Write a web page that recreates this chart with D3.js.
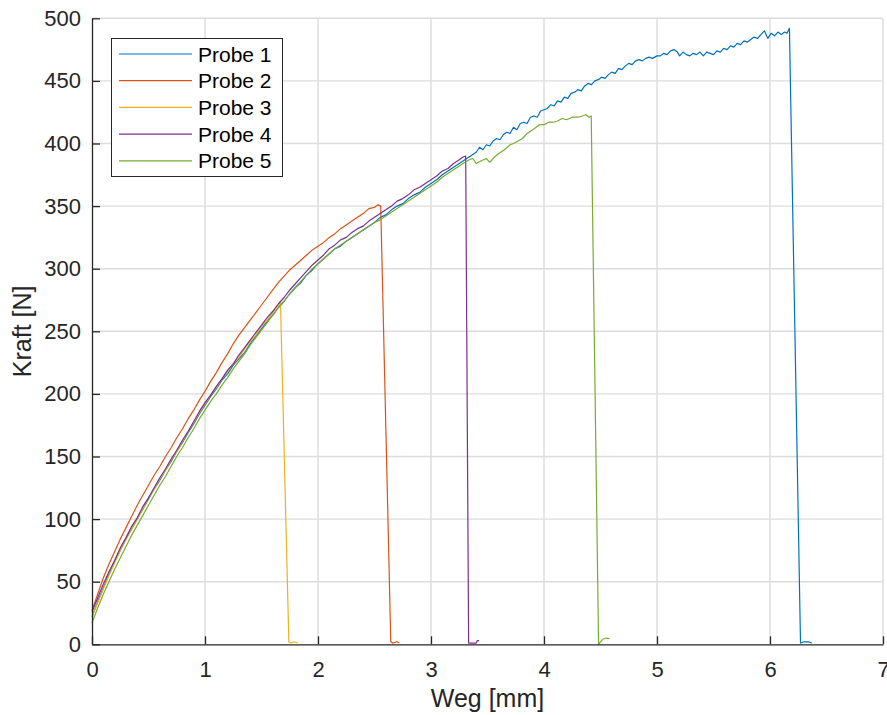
<!DOCTYPE html>
<html>
<head>
<meta charset="utf-8">
<script src="https://cdn.jsdelivr.net/npm/d3@7"></script>
<style>
  html, body { margin: 0; padding: 0; background: #fff; }
  svg { display: block; font-family: "Liberation Sans", Arial, Helvetica, sans-serif; }
</style>
</head>
<body>
<svg id="chart" width="887" height="715"></svg>
<script>
// Zugversuch: Kraft-Weg-Kurven der fünf Proben, Punkte als [Weg in mm, Kraft in N]
const probe1 = [[0,22],[0.05,34],[0.1,45],[0.15,56],[0.2,66],[0.25,75],[0.3,84],[0.35,92],[0.4,100],[0.45,108],[0.5,116],[0.55,124],[0.6,131],[0.65,139],[0.7,146],[0.75,154],[0.8,161],[0.85,169],[0.9,176],[0.95,184],[1.0,191],[1.05,198],[1.1,204],[1.15,211],[1.2,216],[1.25,223],[1.3,228],[1.35,233],[1.4,240],[1.45,246],[1.5,252],[1.55,258],[1.6,263],[1.65,269],[1.7,274],[1.75,280],[1.8,285],[1.85,289],[1.9,295],[1.95,299],[2.0,304],[2.05,308],[2.1,312],[2.15,316],[2.2,318],[2.25,322],[2.3,325],[2.35,328],[2.4,331],[2.45,334],[2.5,337],[2.55,341],[2.6,343],[2.65,347],[2.7,350],[2.75,352],[2.8,356],[2.85,359],[2.9,361],[2.95,365],[3.0,368],[3.05,371],[3.1,375],[3.15,378],[3.2,381],[3.25,384],[3.3,387],[3.35,390],[3.4,393],[3.43,397],[3.46,395],[3.49,399],[3.52,398],[3.55,402],[3.58,404],[3.61,403],[3.64,407],[3.67,409],[3.7,408],[3.73,413],[3.76,411],[3.79,416],[3.82,417],[3.85,416],[3.88,421],[3.91,422],[3.94,421],[3.97,426],[4.0,427],[4.03,428],[4.06,431],[4.09,430],[4.12,434],[4.15,433],[4.18,437],[4.21,436],[4.24,440],[4.27,441],[4.3,443],[4.33,442],[4.36,446],[4.39,448],[4.42,447],[4.45,450],[4.48,451],[4.51,453],[4.54,452],[4.57,455],[4.6,457],[4.63,456],[4.66,460],[4.69,459],[4.72,462],[4.75,464],[4.78,463],[4.81,466],[4.84,467],[4.87,466],[4.9,468],[4.93,469],[4.96,468],[5.0,470],[5.03,470],[5.06,472],[5.09,471],[5.12,474],[5.15,475],[5.18,473],[5.2,470],[5.23,473],[5.26,471],[5.29,470],[5.32,472],[5.35,471],[5.38,473],[5.41,470],[5.44,473],[5.47,472],[5.5,471],[5.53,474],[5.56,473],[5.59,476],[5.62,475],[5.65,478],[5.68,477],[5.71,480],[5.74,479],[5.77,482],[5.8,481],[5.83,483],[5.86,485],[5.89,484],[5.92,487],[5.95,490],[5.98,484],[6.01,488],[6.04,486],[6.07,489],[6.1,487],[6.13,489],[6.15,488],[6.172,492],[6.27,1],[6.3,2],[6.34,2],[6.37,1]];
const probe2 = [[0,27],[0.05,40],[0.1,53],[0.15,64],[0.2,74],[0.25,84],[0.3,93],[0.35,102],[0.4,111],[0.45,119],[0.5,127],[0.55,135],[0.6,142],[0.65,150],[0.7,157],[0.75,165],[0.8,172],[0.85,180],[0.9,187],[0.95,195],[1.0,202],[1.05,210],[1.1,217],[1.15,225],[1.2,232],[1.25,240],[1.3,247],[1.35,253],[1.4,259],[1.45,265],[1.5,271],[1.55,277],[1.6,283],[1.65,289],[1.7,294],[1.75,299],[1.8,303],[1.85,307],[1.9,311],[1.95,315],[2.0,318],[2.05,321],[2.1,325],[2.15,328],[2.2,332],[2.25,335],[2.3,338],[2.35,341],[2.4,344],[2.45,348],[2.5,349],[2.53,351],[2.555,350],[2.644,2],[2.66,1],[2.7,2],[2.72,1]];
const probe3 = [[0,22],[0.05,33],[0.1,44],[0.15,55],[0.2,65],[0.25,75],[0.3,84],[0.35,92],[0.4,100],[0.45,108],[0.5,117],[0.55,124],[0.6,132],[0.65,139],[0.7,147],[0.75,154],[0.8,162],[0.85,170],[0.9,177],[0.95,185],[1.0,192],[1.05,199],[1.1,205],[1.15,212],[1.2,218],[1.25,224],[1.3,229],[1.35,236],[1.4,242],[1.45,247],[1.5,254],[1.55,259],[1.6,265],[1.65,271],[1.668,273],[1.742,2],[1.76,1],[1.79,2],[1.82,1]];
const probe4 = [[0,26],[0.05,37],[0.1,48],[0.15,58],[0.2,67],[0.25,77],[0.3,85],[0.35,94],[0.4,101],[0.45,110],[0.5,117],[0.55,125],[0.6,133],[0.65,140],[0.7,148],[0.75,155],[0.8,163],[0.85,170],[0.9,178],[0.95,186],[1.0,193],[1.05,199],[1.1,206],[1.15,212],[1.2,219],[1.25,224],[1.3,231],[1.35,237],[1.4,243],[1.45,249],[1.5,255],[1.55,261],[1.6,266],[1.65,272],[1.7,277],[1.75,283],[1.8,288],[1.85,293],[1.9,298],[1.95,303],[2.0,307],[2.05,311],[2.1,316],[2.15,319],[2.2,323],[2.25,325],[2.3,329],[2.35,332],[2.4,334],[2.45,338],[2.5,341],[2.55,344],[2.6,347],[2.65,350],[2.7,354],[2.75,356],[2.8,359],[2.85,363],[2.9,365],[2.95,368],[3.0,371],[3.05,374],[3.1,378],[3.15,380],[3.2,384],[3.25,387],[3.28,389],[3.307,390],[3.333,1],[3.36,1],[3.4,1],[3.41,3],[3.425,3]];
const probe5 = [[0,17],[0.05,29],[0.1,40],[0.15,50],[0.2,60],[0.25,69],[0.3,78],[0.35,87],[0.4,95],[0.45,103],[0.5,111],[0.55,119],[0.6,127],[0.65,134],[0.7,142],[0.75,150],[0.8,157],[0.85,165],[0.9,172],[0.95,180],[1.0,187],[1.05,194],[1.1,200],[1.15,207],[1.2,213],[1.25,220],[1.3,226],[1.35,232],[1.4,239],[1.45,245],[1.5,251],[1.55,257],[1.6,263],[1.65,269],[1.7,274],[1.75,280],[1.8,285],[1.85,290],[1.9,295],[1.95,300],[2.0,304],[2.05,308],[2.1,312],[2.15,316],[2.2,319],[2.25,322],[2.3,325],[2.35,328],[2.4,331],[2.45,334],[2.5,337],[2.55,339],[2.6,342],[2.65,345],[2.7,348],[2.75,351],[2.8,354],[2.85,357],[2.9,360],[2.95,363],[3.0,366],[3.05,369],[3.1,373],[3.15,376],[3.2,379],[3.25,382],[3.3,385],[3.34,387],[3.37,388],[3.4,384],[3.44,386],[3.49,388],[3.52,385],[3.56,389],[3.6,392],[3.65,395],[3.7,399],[3.73,400],[3.77,402],[3.81,404],[3.85,408],[3.9,411],[3.96,415],[4.0,415],[4.04,417],[4.08,417],[4.12,418],[4.16,420],[4.2,419],[4.25,421],[4.3,421],[4.34,422],[4.37,423],[4.4,421],[4.418,422],[4.483,0],[4.5,2],[4.52,4],[4.55,5],[4.58,4.5]];

const seriesNames = ["Probe 1", "Probe 2", "Probe 3", "Probe 4", "Probe 5"];
const seriesData = [probe1, probe2, probe3, probe4, probe5];
const seriesColors = ["#0072BD", "#D95319", "#EDB120", "#7E2F8E", "#77AC30"];

const xTicks = [0, 1, 2, 3, 4, 5, 6, 7];
const yTicks = [0, 50, 100, 150, 200, 250, 300, 350, 400, 450, 500];
const xLabel = "Weg [mm]";
const yLabel = "Kraft [N]";

const ink = "#262626";
const gridColor = "#dcdcdc";

const svg = d3.select("#chart");
const x = d3.scaleLinear().domain([0, 7]).range([92, 883]);
const y = d3.scaleLinear().domain([0, 500]).range([644.3, 18.3]);

// Gitterlinien
const grid = svg.append("g");
grid.selectAll("line.gx").data(xTicks.slice(1)).join("line")
  .attr("x1", d => x(d)).attr("x2", d => x(d))
  .attr("y1", y(0)).attr("y2", y(500))
  .attr("stroke", gridColor).attr("stroke-width", 1.4);
grid.selectAll("line.gy").data(yTicks.slice(1)).join("line")
  .attr("x1", x(0)).attr("x2", x(7))
  .attr("y1", d => y(d)).attr("y2", d => y(d))
  .attr("stroke", gridColor).attr("stroke-width", 1.4);

// Kurven
const line = d3.line().x(d => x(d[0])).y(d => y(d[1]));
svg.append("g").selectAll("path").data(seriesData).join("path")
  .attr("d", line)
  .attr("fill", "none")
  .attr("stroke", (d, i) => seriesColors[i])
  .attr("stroke-width", 1.2)
  .attr("stroke-linejoin", "round");

// Achsen mit nach innen zeigenden Ticks
const xAxis = d3.axisBottom(x).tickValues(xTicks).tickFormat(d3.format("d"))
  .tickSizeInner(-8).tickSizeOuter(0).tickPadding(17);
const yAxis = d3.axisLeft(y).tickValues(yTicks).tickFormat(d3.format("d"))
  .tickSizeInner(-8).tickSizeOuter(0).tickPadding(11);

const gx = svg.append("g").attr("transform", `translate(0,${y(0)})`).call(xAxis);
const gy = svg.append("g").attr("transform", `translate(${x(0)},0)`).call(yAxis);
[gx, gy].forEach(g => {
  g.select(".domain").attr("stroke", ink).attr("stroke-width", 1.3);
  g.selectAll(".tick line").attr("stroke", ink).attr("stroke-width", 1.3);
  g.selectAll(".tick text").attr("fill", ink)
    .style("font-size", "22px")
    .style("font-family", "\"Liberation Sans\", Arial, sans-serif");
});

// Achsenbeschriftungen
svg.append("text")
  .attr("x", (x(0) + x(7)) / 2).attr("y", 707)
  .attr("text-anchor", "middle").attr("fill", ink)
  .style("font-size", "25px").text(xLabel);
svg.append("text")
  .attr("transform", `translate(31,${(y(0) + y(500)) / 2}) rotate(-90)`)
  .attr("text-anchor", "middle").attr("fill", ink)
  .style("font-size", "25px").text(yLabel);

// Legende
const legend = svg.append("g").attr("transform", "translate(111.5,38.5)");
legend.append("rect").attr("width", 171).attr("height", 138)
  .attr("fill", "#fff").attr("stroke", ink).attr("stroke-width", 1);
const rows = legend.selectAll("g.row").data(seriesNames).join("g")
  .attr("transform", (d, i) => `translate(0,${15.5 + i * 26.7})`);
rows.append("line").attr("x1", 7.5).attr("x2", 80.5)
  .attr("stroke", (d, i) => seriesColors[i]).attr("stroke-width", 1.2);
rows.append("text").attr("x", 86.5).attr("y", 7.6)
  .attr("fill", "#000").style("font-size", "21px").text(d => d);
</script>
</body>
</html>
